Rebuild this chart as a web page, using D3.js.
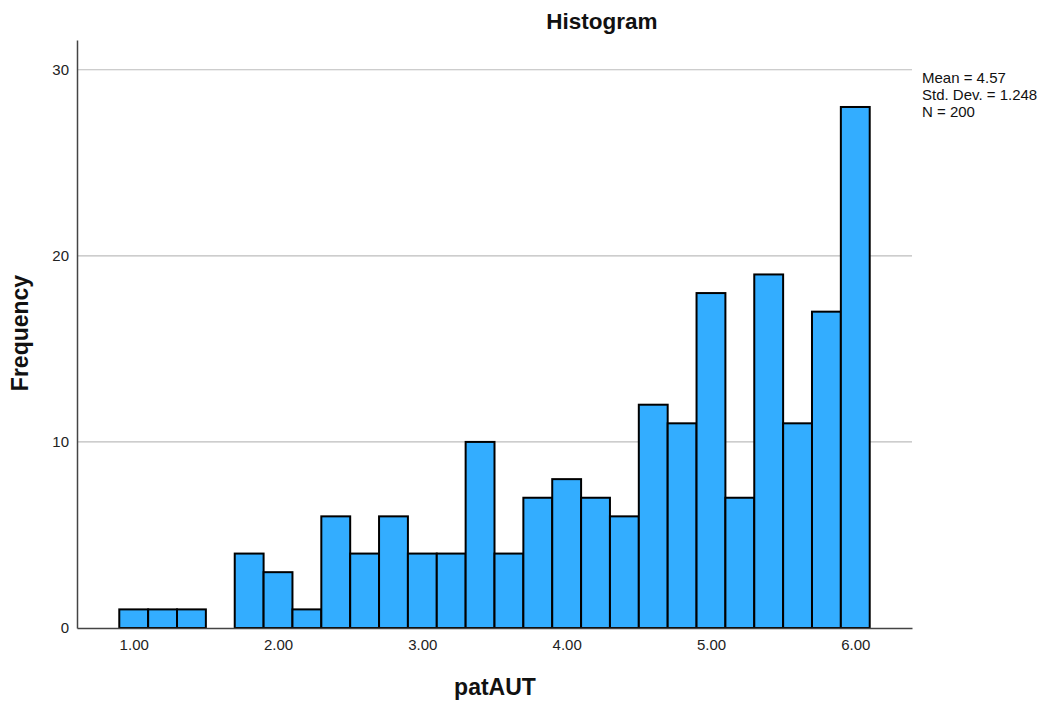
<!DOCTYPE html>
<html><head><meta charset="utf-8">
<script src="https://cdn.jsdelivr.net/npm/d3@7"></script>
<style>body{margin:0;background:#fff;} svg{display:block;font-family:"Liberation Sans",Arial,sans-serif;}</style>
</head><body>
<svg id="c" width="1048" height="704"></svg>
<script>
const binCenters = [1.0,1.2,1.4,1.6,1.8,2.0,2.2,2.4,2.6,2.8,3.0,3.2,3.4,3.6,3.8,4.0,4.2,4.4,4.6,4.8,5.0,5.2,5.4,5.6,5.8,6.0];
const counts =     [1,  1,  1,  0,  4,  3,  1,  6,  4,  6,  4,  4,  10, 4,  7,  8,  7,  6,  12, 11, 18, 7,  19, 11, 17, 28];
const binWidth = 0.2;
const xTicks = [1,2,3,4,5,6];
const yTicks = [0,10,20,30];
const statsLines = ["Mean = 4.57","Std. Dev. = 1.248","N = 200"];

(function(){
const svg = d3.select("#c");
const pL=77, pR=912, pT=40, pB=628;
const x = d3.scaleLinear().domain([0.607,6.393]).range([pL,pR]);
const y = d3.scaleLinear().domain([0,31.6]).range([pB,pT]);

// gridlines
svg.append("g").selectAll("line").data(yTicks.filter(d=>d>0)).join("line")
  .attr("x1",pL).attr("x2",pR).attr("y1",d=>y(d)).attr("y2",d=>y(d))
  .attr("stroke","#bdbdbd").attr("stroke-width",1.2);

// bars
svg.append("g").selectAll("rect").data(binCenters.map((c,i)=>({c,n:counts[i]})).filter(d=>d.n>0)).join("rect")
  .attr("x",d=>x(d.c-binWidth/2)).attr("width",d=>x(d.c+binWidth/2)-x(d.c-binWidth/2))
  .attr("y",d=>y(d.n)).attr("height",d=>y(0)-y(d.n))
  .attr("fill","#33adff").attr("stroke","#000").attr("stroke-width",2);

// axes
const yAxis = d3.axisLeft(y).tickValues(yTicks).tickSize(0).tickPadding(8).tickFormat(d3.format("d"));
const gy = svg.append("g").attr("transform",`translate(${pL},0)`).call(yAxis);
gy.select(".domain").attr("stroke","#444").attr("stroke-width",1.5);
gy.selectAll("text").attr("font-size",15).attr("fill","#222").attr("font-family","Liberation Sans, Arial, sans-serif");

const xAxis = d3.axisBottom(x).tickValues(xTicks).tickSize(0).tickPadding(11).tickFormat(d3.format(".2f"));
const gx = svg.append("g").attr("transform",`translate(0,${pB})`).call(xAxis);
gx.select(".domain").attr("stroke","#444").attr("stroke-width",1.5);
gx.selectAll("text").attr("font-size",15).attr("fill","#222").attr("font-family","Liberation Sans, Arial, sans-serif");

// title & labels
svg.append("text").attr("x",602).attr("y",29).attr("text-anchor","middle")
  .attr("font-size",22.5).attr("font-weight","bold").attr("fill","#111").text("Histogram");
svg.append("text").attr("x",495).attr("y",695).attr("text-anchor","middle")
  .attr("font-size",23).attr("font-weight","bold").attr("fill","#111").text("patAUT");
svg.append("text").attr("transform","translate(28,333) rotate(-90)").attr("text-anchor","middle")
  .attr("font-size",23).attr("font-weight","bold").attr("fill","#111").text("Frequency");

// stats
svg.append("g").selectAll("text").data(statsLines).join("text")
  .attr("x",922).attr("y",(d,i)=>83+i*17).attr("font-size",15).attr("fill","#111").text(d=>d);
})();
</script>
</body></html>
